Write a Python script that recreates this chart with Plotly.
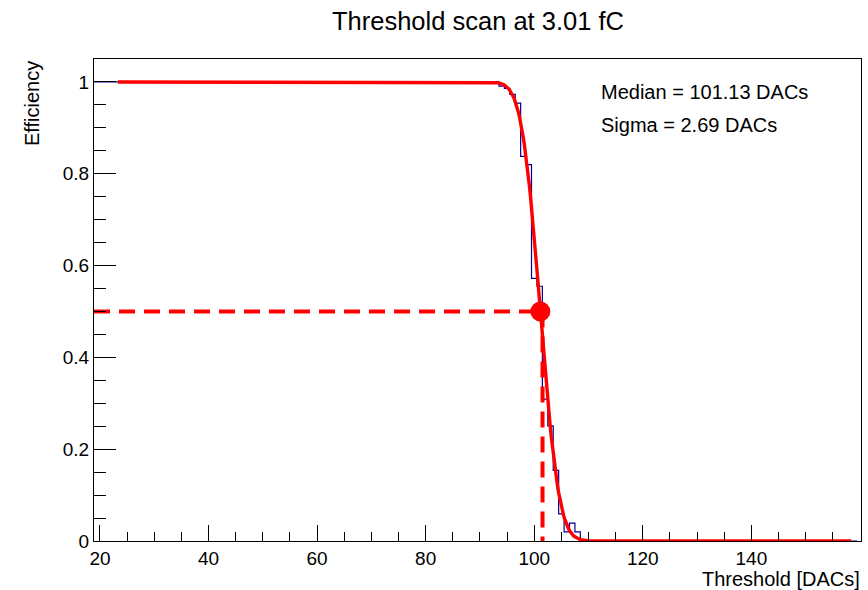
import math
import plotly.graph_objects as go

# ---------------- data ----------------
TITLE = "Threshold scan at 3.01 fC"
X_LABEL = "Threshold [DACs]"
Y_LABEL = "Efficiency"

MEDIAN = 101.13          # DACs
SIGMA = 2.69             # DACs
HALF_EFF = 0.5

# histogram binning: unit-width bins centred on integer thresholds
BIN_FIRST_CENTER = 19
BIN_WIDTH = 1.0
# efficiency per bin
EFF_PLATEAU = [1.0] * 75                     # bins 19 .. 93
EFF_TRANSITION = [0.991, 0.986, 0.973, 0.954, 0.838, 0.820, 0.572, 0.555,
                  0.309, 0.251, 0.154, 0.059, 0.020, 0.039, 0.020]  # bins 94 .. 108
EFF_TAIL = [0.0] * 51                        # bins 109 .. 159

FIT_X_START = 23.3
FIT_X_END = 158.4

X_RANGE = [18.9, 160.2]
Y_RANGE = [0.0, 1.05]
X_TICKS = [20, 40, 60, 80, 100, 120, 140]
Y_TICKS = [0, 0.2, 0.4, 0.6, 0.8, 1.0]
Y_TICK_TEXT = ["0", "0.2", "0.4", "0.6", "0.8", "1"]

MEDIAN_TEXT = "Median = 101.13 DACs"
SIGMA_TEXT = "Sigma = 2.69 DACs"

# ---------------- derived ----------------
eff = EFF_PLATEAU + EFF_TRANSITION + EFF_TAIL
edges = [BIN_FIRST_CENTER - BIN_WIDTH / 2 + i * BIN_WIDTH for i in range(len(eff) + 1)]
hist_y = eff + [eff[-1]]

n_fit = 600
fit_x = [FIT_X_START + (FIT_X_END - FIT_X_START) * i / (n_fit - 1) for i in range(n_fit)]
fit_y = [0.5 * (1 - math.erf((x - MEDIAN) / (SIGMA * math.sqrt(2)))) for x in fit_x]

x_minor = [v for v in range(20, 160, 5) if v not in X_TICKS]
y_minor = [round(0.05 * i, 2) for i in range(0, 21) if round(0.05 * i, 2) not in [round(t, 2) for t in Y_TICKS]]

FONT = "Liberation Sans, Arial, Helvetica, sans-serif"
RED = "#ff0000"
BLUE = "#000099"

fig = go.Figure()

fig.add_trace(go.Scatter(x=edges, y=hist_y, mode="lines", line=dict(color=BLUE, width=1.2, shape="hv"),
                         hoverinfo="skip", showlegend=False))
fig.add_trace(go.Scatter(x=fit_x, y=fit_y, mode="lines", line=dict(color=RED, width=3.4),
                         hoverinfo="skip", showlegend=False))
fig.add_trace(go.Scatter(x=[X_RANGE[0], MEDIAN], y=[HALF_EFF, HALF_EFF], mode="lines",
                         line=dict(color=RED, width=4, dash="16px,9px"), showlegend=False))
fig.add_trace(go.Scatter(x=[MEDIAN + 0.4, MEDIAN + 0.4], y=[HALF_EFF, 0], mode="lines",
                         line=dict(color=RED, width=4, dash="16px,9px"), showlegend=False))
fig.add_trace(go.Scatter(x=[MEDIAN], y=[HALF_EFF], mode="markers",
                         marker=dict(color=RED, size=20), showlegend=False))

L, R, T, B = 94, 7.3, 58.5, 48.5
fig.update_layout(
    width=868, height=590,
    margin=dict(l=L, r=R, t=T, b=B, pad=0),
    paper_bgcolor="white", plot_bgcolor="white",
    font=dict(family=FONT, color="black", size=19),
    showlegend=False,
)
fig.update_xaxes(
    range=X_RANGE, tickmode="array", tickvals=X_TICKS, ticktext=[str(v) for v in X_TICKS],
    ticks="inside", ticklen=16, tickwidth=1, tickcolor="black",
    minor=dict(tickmode="array", tickvals=x_minor, ticks="inside", ticklen=9, tickwidth=1, tickcolor="black"),
    showline=True, linecolor="black", linewidth=1, mirror=True,
    showgrid=False, zeroline=False, tickfont=dict(size=19, family=FONT),
)
fig.update_yaxes(
    range=Y_RANGE, tickmode="array", tickvals=Y_TICKS, ticktext=Y_TICK_TEXT,
    ticks="inside", ticklen=22, tickwidth=1, tickcolor="black",
    minor=dict(tickmode="array", tickvals=y_minor, ticks="inside", ticklen=12, tickwidth=1, tickcolor="black"),
    showline=True, linecolor="black", linewidth=1, mirror=True,
    showgrid=False, zeroline=False, tickfont=dict(size=19, family=FONT),
)

pw = 868 - L - R
ph = 590 - T - B
def px_x(px):
    return (px - L) / pw
def px_y(py):
    return (590 - B - py) / ph

fig.add_annotation(text=TITLE, xref="paper", yref="paper", x=0.5, y=px_y(20),
                   xanchor="center", yanchor="middle", showarrow=False,
                   font=dict(size=25.5, family=FONT, color="black"))
fig.add_annotation(text=Y_LABEL, xref="paper", yref="paper", x=px_x(32), y=px_y(58),
                   xanchor="center", yanchor="top", textangle=-90, showarrow=False,
                   font=dict(size=20, family=FONT, color="black"))
fig.add_annotation(text=X_LABEL, xref="paper", yref="paper", x=px_x(862), y=px_y(580),
                   xanchor="right", yanchor="middle", showarrow=False,
                   font=dict(size=20, family=FONT, color="black"))
fig.add_annotation(text=MEDIAN_TEXT, xref="paper", yref="paper", x=px_x(599), y=px_y(92),
                   xanchor="left", yanchor="middle", showarrow=False,
                   font=dict(size=20, family=FONT, color="black"))
fig.add_annotation(text=SIGMA_TEXT, xref="paper", yref="paper", x=px_x(599), y=px_y(125),
                   xanchor="left", yanchor="middle", showarrow=False,
                   font=dict(size=20, family=FONT, color="black"))

fig.write_html("out.html")
